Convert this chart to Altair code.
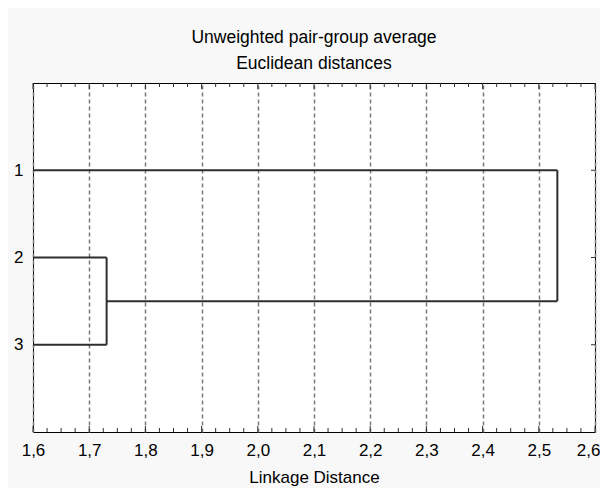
import altair as alt
import pandas as pd

# ---------------- data ----------------
title_lines = ["Unweighted pair-group average", "Euclidean distances"]
x_title = "Linkage Distance"
leaf_labels = ["1", "2", "3"]
leaf_pos = [1, 2, 3]
# linkage: (node a, node b, distance) ; nodes 0..2 are leaves, 3.. new clusters
merges = [(1, 2, 1.731), (0, 3, 2.533)]
x_min, x_max = 1.6, 2.6
x_major = [1.6, 1.7, 1.8, 1.9, 2.0, 2.1, 2.2, 2.3, 2.4, 2.5, 2.6]
x_minor = [round(1.6 + 0.025 * k, 3) for k in range(41)]

# ---------------- build dendrogram segments ----------------
nodes = {i: (p, x_min) for i, p in enumerate(leaf_pos)}
segs = []
for a, b, d in merges:
    pa, ha = nodes[a]
    pb, hb = nodes[b]
    segs.append(dict(x=ha, x2=d, y=pa, y2=pa))
    segs.append(dict(x=hb, x2=d, y=pb, y2=pb))
    segs.append(dict(x=d, x2=d, y=pa, y2=pb))
    nodes[len(nodes)] = ((pa + pb) / 2, d)
seg_df = pd.DataFrame(segs)

major_df = pd.DataFrame({"x": x_major})
minor_df = pd.DataFrame({"x": [v for v in x_minor if abs(v * 10 - round(v * 10)) > 1e-6]})
ytick_df = pd.DataFrame({"y": leaf_pos})

W, H = 562, 349
FONT = "Liberation Sans"

xscale = alt.Scale(domain=[x_min, x_max], nice=False, zero=False)
yscale = alt.Scale(domain=[0, 4], reverse=True, nice=False, zero=False)

dendro = alt.Chart(seg_df).mark_rule(color="#2e2e2e", strokeWidth=2).encode(
    x=alt.X("x:Q", scale=xscale,
            axis=alt.Axis(values=x_major, format=".1f",
                          labelExpr="replace(datum.label, '.', ',')",
                          labelAlign={"condition": {"test": "datum.value >= 2.59", "value": "right"},
                                      "value": "center"},
                          labelOffset={"condition": {"test": "datum.value >= 2.59", "value": 5},
                                       "value": 0},
                          ticks=False, domain=False, grid=True,
                          gridDash=[4, 3], gridColor="#7a7a7a", gridWidth=1.5,
                          labelFontSize=17, labelFont=FONT, labelColor="black",
                          labelPadding=10, labelFlush=False,
                          title=x_title, titleFont=FONT, titleFontSize=17,
                          titleFontWeight="normal", titleColor="black",
                          titlePadding=11)),
    x2="x2:Q",
    y=alt.Y("y:Q", scale=yscale,
            axis=alt.Axis(values=leaf_pos, format="d", ticks=False, domain=False,
                          grid=False, labelFontSize=17, labelFont=FONT,
                          labelColor="black", labelPadding=10, title=None)),
    y2="y2:Q",
)

tick_style = dict(color="#303030", strokeWidth=1)
top_minor = alt.Chart(minor_df).mark_rule(**tick_style).encode(
    x=alt.X("x:Q", scale=xscale), y=alt.value(0), y2=alt.value(4))
bot_minor = alt.Chart(minor_df).mark_rule(**tick_style).encode(
    x=alt.X("x:Q", scale=xscale), y=alt.value(H - 4), y2=alt.value(H))
top_major = alt.Chart(major_df).mark_rule(**tick_style).encode(
    x=alt.X("x:Q", scale=xscale), y=alt.value(0), y2=alt.value(6))
bot_major = alt.Chart(major_df).mark_rule(**tick_style).encode(
    x=alt.X("x:Q", scale=xscale), y=alt.value(H - 6), y2=alt.value(H))
right_ticks = alt.Chart(ytick_df).mark_rule(**tick_style).encode(
    y=alt.Y("y:Q", scale=yscale), x=alt.value(W - 4), x2=alt.value(W))

chart = alt.layer(dendro, top_minor, bot_minor, top_major, bot_major, right_ticks).properties(
    width=W, height=H,
    title=alt.TitleParams(text=title_lines, font=FONT, fontSize=17.5,
                          fontWeight="normal", color="black", lineHeight=26,
                          anchor="middle", offset=10),
    autosize=alt.AutoSizeParams(type="none"),
    padding={"left": 25, "top": 75, "right": 5, "bottom": 56},
    background="#f8f8f8",
).configure_view(fill="white", stroke="black", strokeWidth=1)

chart.save("out.html", embed_options={"renderer": "svg", "actions": False})
